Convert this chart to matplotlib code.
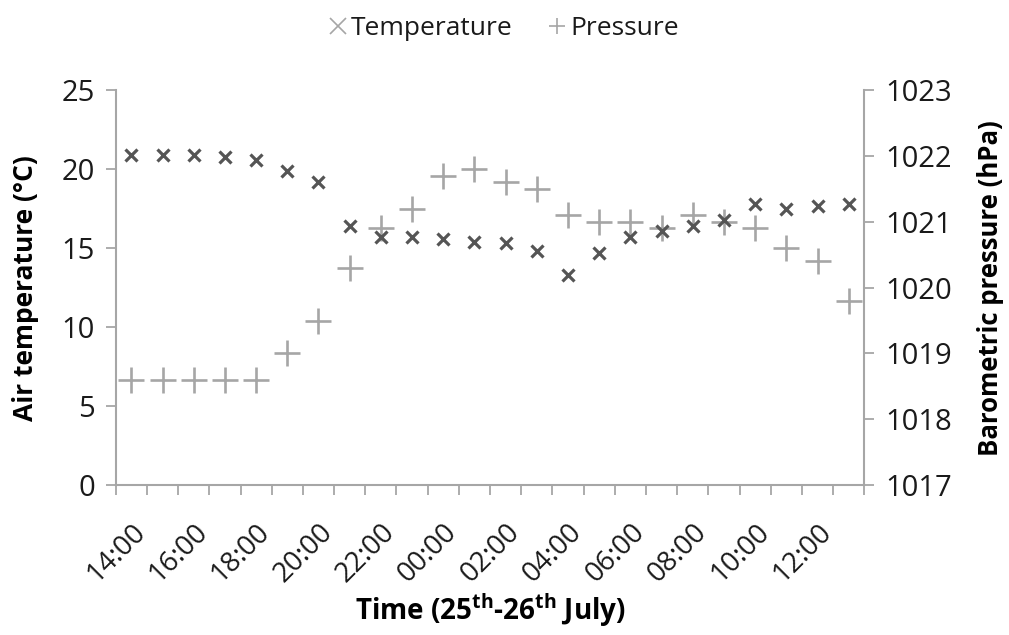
import matplotlib
matplotlib.use("Agg")
import matplotlib.pyplot as plt
import numpy as np

hours = ["14:00", "15:00", "16:00", "17:00", "18:00", "19:00", "20:00", "21:00",
         "22:00", "23:00", "00:00", "01:00", "02:00", "03:00", "04:00", "05:00",
         "06:00", "07:00", "08:00", "09:00", "10:00", "11:00", "12:00", "13:00"]
temperature = [20.9, 20.9, 20.9, 20.8, 20.6, 19.9, 19.2, 16.4, 15.7, 15.7, 15.6, 15.4,
               15.3, 14.8, 13.3, 14.7, 15.7, 16.1, 16.4, 16.8, 17.8, 17.5, 17.7, 17.8]
pressure = [1018.6, 1018.6, 1018.6, 1018.6, 1018.6, 1019.0, 1019.5, 1020.3, 1020.9,
            1021.2, 1021.7, 1021.8, 1021.6, 1021.5, 1021.1, 1021.0, 1021.0, 1020.9,
            1021.1, 1021.0, 1020.9, 1020.6, 1020.4, 1019.8]

plt.rcParams["font.family"] = ["Open Sans", "DejaVu Sans"]
plt.rcParams["mathtext.fontset"] = "custom"
plt.rcParams["mathtext.rm"] = "Open Sans"
plt.rcParams["mathtext.bf"] = "Open Sans:bold"

axis_grey = "#a6a6a6"
temp_col = "#555555"
pres_col = "#a6a6a6"
text_col = "#1a1a1a"

fig = plt.figure(figsize=(10.09, 6.35), dpi=100)
ax = fig.add_axes([0.1147, 0.236, 0.742, 0.622])
ax2 = ax.twinx()

x = np.arange(len(hours))
h1, = ax.plot(x, temperature, linestyle="none", marker="x", ms=9, mew=2.3,
              color=temp_col, label="Temperature")
h2, = ax2.plot(x, pressure, linestyle="none", marker="+", ms=19, mew=1.9,
               color=pres_col, label="Pressure")
ax2.set_zorder(0)
ax.set_zorder(1)
ax.patch.set_visible(False)

ax.set_xlim(-0.5, len(hours) - 0.5)
ax.set_ylim(0, 25)
ax.set_yticks(range(0, 26, 5))
ax2.set_ylim(1017, 1023)
ax2.set_yticks(range(1017, 1024))

ax.set_xticks(np.arange(-0.5, len(hours), 1.0))
ax.set_xticklabels([])
ax.set_xticks(x[::2], minor=True)
ax.set_xticklabels(hours[::2], minor=True, rotation=45, ha="right",
                   rotation_mode="anchor", fontsize=20, color=text_col)
ax.tick_params(axis="x", which="minor", length=0, pad=24)
ax.tick_params(axis="x", which="major", length=7, width=1.3, color=axis_grey)

for a in (ax, ax2):
    for s in a.spines.values():
        s.set_color(axis_grey)
        s.set_linewidth(1.5)
    a.spines["top"].set_visible(False)
ax.spines["right"].set_visible(False)
ax2.spines["left"].set_visible(False)
ax2.spines["bottom"].set_visible(False)

ax.tick_params(axis="y", length=7, width=1.3, color=axis_grey, labelsize=21,
               labelcolor=text_col, pad=8)
ax2.tick_params(axis="y", length=7, width=1.3, color=axis_grey, labelsize=21,
                labelcolor=text_col, pad=8)

ax.set_ylabel("Air temperature (°C)", fontsize=19, fontweight="bold", labelpad=16)
ax2.set_ylabel("Barometric pressure (hPa)", fontsize=18.5, fontweight="bold", labelpad=18)
ax.set_xlabel(r"Time (25$^{\mathbf{th}}$-26$^{\mathbf{th}}$ July)", fontsize=20,
              fontweight="bold", labelpad=2)

leg = fig.legend(handles=[h1, h2], loc="center", bbox_to_anchor=(0.5, 0.955), ncol=2,
                 frameon=False, fontsize=19, handlelength=0.6, handletextpad=0.2,
                 columnspacing=1.4)
for t in leg.get_texts():
    t.set_color(text_col)
for hnd in leg.legend_handles:
    hnd.set_color(pres_col)
    hnd.set_markersize(12)
    hnd.set_markeredgewidth(1.2)

fig.savefig("out.png", dpi=100)
